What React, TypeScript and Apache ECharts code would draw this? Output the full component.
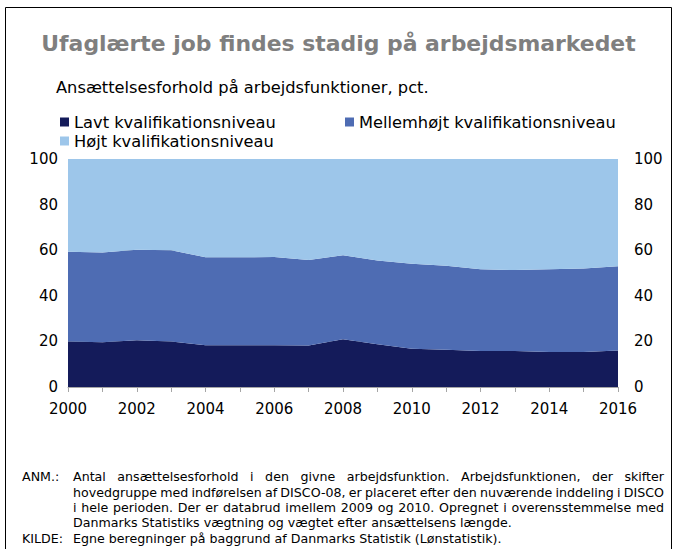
import React, { useEffect, useRef } from "react";
import * as echarts from "echarts";

const years = ["2000","2001","2002","2003","2004","2005","2006","2007","2008","2009","2010","2011","2012","2013","2014","2015","2016"];
const lavt = [20.0, 19.6, 20.5, 20.0, 18.3, 18.3, 18.3, 18.2, 20.9, 18.8, 16.8, 16.3, 15.8, 15.8, 15.3, 15.3, 16.0];
const mellem = [39.3, 39.4, 39.7, 40.0, 38.6, 38.6, 38.7, 37.5, 36.9, 36.7, 37.3, 36.9, 35.8, 35.5, 36.3, 36.7, 37.0];
const hoej = [40.7, 41.0, 39.8, 40.0, 43.1, 43.1, 43.0, 44.3, 42.2, 44.5, 45.9, 46.8, 48.4, 48.7, 48.4, 48.0, 47.0];
const seriesNames = ["Lavt kvalifikationsniveau", "Mellemhøjt kvalifikationsniveau", "Højt kvalifikationsniveau"];
const colors = ["#141B5A", "#4E6CB3", "#9DC6EA"];

const title = "Ufaglærte job findes stadig på arbejdsmarkedet";
const subtitle = "Ansættelsesforhold på arbejdsfunktioner, pct.";
const noteLines = [
  "Antal ansættelsesforhold i den givne arbejdsfunktion. Arbejdsfunktionen, der skifter",
  "hovedgruppe med indførelsen af DISCO-08, er placeret efter den nuværende inddeling i DISCO",
  "i hele perioden. Der er databrud imellem 2009 og 2010. Opregnet i overensstemmelse med",
  "Danmarks Statistiks vægtning og vægtet efter ansættelsens længde.",
];
const sourceText = "Egne beregninger på baggrund af Danmarks Statistik (Lønstatistik).";

const FAMILY = '"DejaVu Sans", sans-serif';

export default function App() {
  const ref = useRef<HTMLDivElement>(null);
  useEffect(() => {
    if (!ref.current) return;
    const chart = echarts.init(ref.current, null, { renderer: "svg" });
    const canvas = document.createElement("canvas");
    const ctx = canvas.getContext("2d") as CanvasRenderingContext2D;
    const fit = (text: string, target: number, weight = "normal") => {
      ctx.font = `${weight} 100px ${FAMILY}`;
      return (100 * target) / ctx.measureText(text).width;
    };

    const titleSize = fit(title, 595, "bold");
    const subSize = fit(subtitle, 373);
    const legendSize = fit(seriesNames[0], 202);
    const noteSize = fit(sourceText, 429);
    const noteFont = `${noteSize}px ${FAMILY}`;

    const noteX0 = 73;
    const noteX1 = 664;
    const noteYs = [476, 492, 507.5, 522.5];
    const noteEls: any[] = [];
    ctx.font = noteFont;
    noteLines.forEach((line, i) => {
      const y = noteYs[i];
      if (i === noteLines.length - 1) {
        noteEls.push({ type: "text", x: noteX0, y, style: { text: line, font: noteFont, fill: "#000", textVerticalAlign: "middle" } });
        return;
      }
      const words = line.split(" ");
      const widths = words.map((w) => ctx.measureText(w).width);
      const total = widths.reduce((a, b) => a + b, 0);
      const gap = (noteX1 - noteX0 - total) / (words.length - 1);
      let x = noteX0;
      words.forEach((w, j) => {
        noteEls.push({ type: "text", x, y, style: { text: w, font: noteFont, fill: "#000", textVerticalAlign: "middle" } });
        x += widths[j] + gap;
      });
    });

    const legendFont = { fontFamily: FAMILY, fontSize: legendSize, color: "#000" };
    const axisFont = { fontFamily: FAMILY, fontSize: 15, color: "#000" };
    const legendBase = { itemWidth: 9, itemHeight: 9, itemGap: 0, textStyle: legendFont, icon: "rect", padding: 0 };

    chart.setOption({
      animation: false,
      backgroundColor: "#fff",
      grid: { left: 68, right: 58, top: 159, bottom: 162, containLabel: false },
      legend: [
        { ...legendBase, data: [seriesNames[0]], left: 60, top: 114 },
        { ...legendBase, data: [seriesNames[1]], left: 345, top: 114 },
        { ...legendBase, data: [seriesNames[2]], left: 60, top: 133 },
      ],
      xAxis: {
        type: "category",
        data: years,
        boundaryGap: false,
        axisLine: { show: true, lineStyle: { color: "#a6a6a6" } },
        axisTick: { show: true, interval: 0, length: 5, lineStyle: { color: "#a6a6a6" } },
        axisLabel: { interval: 1, margin: 14, ...axisFont },
        splitLine: { show: false },
      },
      yAxis: [
        {
          type: "value", min: 0, max: 100, interval: 20, position: "left",
          axisLine: { show: false }, axisTick: { show: false },
          axisLabel: { margin: 10, ...axisFont },
          splitLine: { show: true, lineStyle: { color: "#bfbfbf" } },
        },
        {
          type: "value", min: 0, max: 100, interval: 20, position: "right",
          axisLine: { show: false }, axisTick: { show: false },
          axisLabel: { margin: 16, ...axisFont },
          splitLine: { show: false },
        },
      ],
      series: [lavt, mellem, hoej].map((d, i) => ({
        name: seriesNames[i],
        type: "line",
        stack: "total",
        data: d,
        symbol: "none",
        lineStyle: { width: 0 },
        itemStyle: { color: colors[i] },
        areaStyle: { color: colors[i], opacity: 1 },
      })),
      graphic: [
        { type: "rect", shape: { x: 5.5, y: 7.5, width: 666, height: 600 }, style: { fill: "none", stroke: "#000", lineWidth: 1 }, silent: true },
        { type: "text", x: 338.5, y: 43, style: { text: title, font: `bold ${titleSize}px ${FAMILY}`, fill: "#7f7f7f", textAlign: "center", textVerticalAlign: "middle" } },
        { type: "text", x: 56, y: 87, style: { text: subtitle, font: `${subSize}px ${FAMILY}`, fill: "#000", textVerticalAlign: "middle" } },
        { type: "text", x: 22, y: 476, style: { text: "ANM.:", font: noteFont, fill: "#000", textVerticalAlign: "middle" } },
        ...noteEls,
        { type: "text", x: 22, y: 538, style: { text: "KILDE:", font: noteFont, fill: "#000", textVerticalAlign: "middle" } },
        { type: "text", x: noteX0, y: 538, style: { text: sourceText, font: noteFont, fill: "#000", textVerticalAlign: "middle" } },
      ],
    });
    return () => chart.dispose();
  }, []);
  return <div ref={ref} style={{ position: "fixed", left: 0, top: 0, width: 676, height: 549 }} />;
}
